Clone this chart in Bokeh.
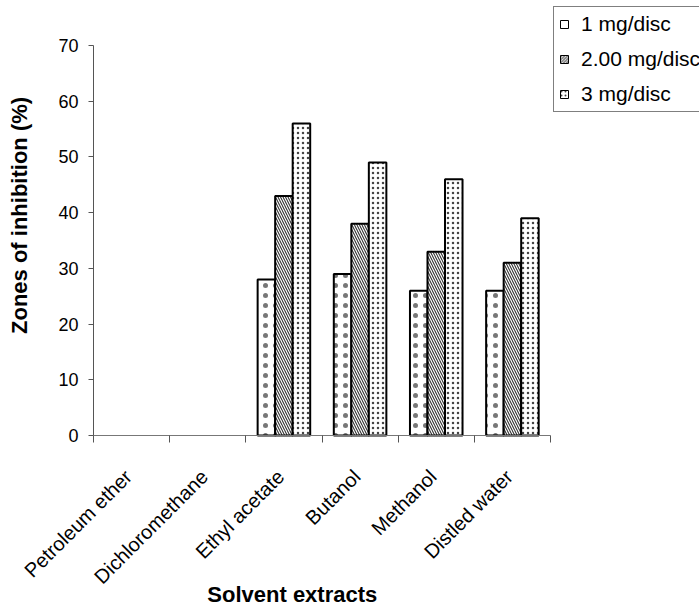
import math
from bokeh.plotting import figure
from bokeh.models import (ColumnDataSource, Range1d, FixedTicker, Legend, LegendItem,
                          LabelSet, Label)
from bokeh.core.properties import value
from bokeh.embed import file_html
from bokeh.resources import INLINE

# ---- data ----
categories = ["Petroleum ether", "Dichloromethane", "Ethyl acetate",
              "Butanol", "Methanol", "Distled water"]
series_names = ["1 mg/disc", "2.00 mg/disc", "3 mg/disc"]
dose_1mg = [0, 0, 28, 29, 26, 26]
dose_2mg = [0, 0, 43, 38, 33, 31]
dose_3mg = [0, 0, 56, 49, 46, 39]
y_ticks = [0, 10, 20, 30, 40, 50, 60, 70]

FONT = "Liberation Sans"
W, H = 699, 608
# plot-area geometry (pixels): x axis 93..550, y axis 435 (0) .. 45 (70)
X0, X1, Y0, Y1 = 93, 550, 435, 45
ncat = len(categories)
xs_per_px = ncat / (X1 - X0)
ys_per_px = 70 / (Y0 - Y1)

p = figure(width=W, height=H,
           x_range=Range1d(-X0 * xs_per_px, ncat + (W - X1) * xs_per_px),
           y_range=Range1d(-(H - Y0) * ys_per_px, 70 + Y1 * ys_per_px),
           output_backend="svg", toolbar_location=None,
           min_border=0, min_border_left=0, min_border_right=0,
           min_border_top=0, min_border_bottom=0)
p.outline_line_color = None
p.xgrid.visible = False
p.ygrid.visible = False
p.background_fill_color = "white"
p.border_fill_color = "white"

# ---- bars ----
bar_w = 0.23
offsets = [-bar_w, 0.0, bar_w]
styles = [
    dict(hatch_pattern="dot", hatch_scale=10, hatch_weight=0.6, hatch_color="#777777"),
    dict(hatch_pattern="left_diagonal_line", hatch_scale=5, hatch_weight=1.1, hatch_color="#333333"),
    dict(hatch_pattern="dot", hatch_scale=5, hatch_weight=1.0, hatch_color="#444444"),
]
swatch_hatch = [dict(hatch_pattern=None),
                dict(hatch_pattern="left_diagonal_line", hatch_scale=3, hatch_weight=0.8, hatch_color="#444444"),
                dict(hatch_pattern="dot", hatch_scale=4, hatch_weight=0.8, hatch_color="#444444")]
legend_items = []
for name, vals, off, st, sh in zip(series_names, [dose_1mg, dose_2mg, dose_3mg],
                                   offsets, styles, swatch_hatch):
    xs = [i + 0.5 + off for i, v in enumerate(vals) if v > 0]
    tops = [v for v in vals if v > 0]
    src = ColumnDataSource(dict(x=xs, top=tops))
    p.vbar(x="x", top="top", width=bar_w, bottom=0, source=src,
           fill_color="white", line_color="black", line_width=2, **st)
    # legend swatch only (placeholder row that draws nothing on the plot)
    sw_src = ColumnDataSource(dict(x=[float("nan")], top=[float("nan")]))
    sw = p.vbar(x="x", top="top", width=bar_w, bottom=0, source=sw_src,
                fill_color="white", line_color="black", line_width=1, **sh)
    legend_items.append(LegendItem(label=name, renderers=[sw]))

# ---- axes (fixed at data origin) ----
ax_col = "#555555"
yax = p.yaxis[0]
yax.fixed_location = 0
yax.bounds = (0, 70)
yax.ticker = FixedTicker(ticks=y_ticks)
yax.major_tick_out = 5
yax.major_tick_in = 0
yax.minor_tick_line_color = None
yax.major_label_standoff = 10
yax.major_label_text_font = FONT
yax.major_label_text_font_size = "18px"
yax.major_label_text_color = "black"
yax.axis_line_color = ax_col
yax.major_tick_line_color = ax_col

xax = p.xaxis[0]
xax.fixed_location = 0
xax.bounds = (0, ncat)
xax.ticker = FixedTicker(ticks=list(range(ncat + 1)))
xax.major_label_overrides = {i: "" for i in range(ncat + 1)}
xax.major_tick_out = 7
xax.major_tick_in = 0
xax.minor_tick_line_color = None
xax.axis_line_color = "#777777"
xax.major_tick_line_color = ax_col

# category labels
cat_src = ColumnDataSource(dict(x=[i + 0.5 for i in range(ncat)],
                                y=[0] * ncat, text=categories))
p.add_layout(LabelSet(x="x", y="y", text="text", source=cat_src,
                      x_offset=-11, y_offset=-30, angle=math.pi / 4,
                      text_align="right", text_baseline="top",
                      text_font=value(FONT), text_font_size=value("20px"),
                      text_color="black"))

# axis titles
p.add_layout(Label(x=0, y=39.5, x_offset=-74, text="Zones of inhibition (%)",
                   angle=math.pi / 2, text_align="center", text_baseline="middle",
                   text_font=FONT, text_font_size="22px", text_font_style="bold",
                   text_color="black"))
p.add_layout(Label(x=2.61, y=0, y_offset=-159, text="Solvent extracts",
                   text_align="center", text_baseline="middle",
                   text_font=FONT, text_font_size="22px", text_font_style="bold",
                   text_color="black"))

# ---- legend ----
legend = Legend(items=legend_items,
                location=(553, H - 112), orientation="vertical",
                border_line_color="black", border_line_width=1,
                background_fill_color="white", background_fill_alpha=1,
                label_text_font=FONT, label_text_font_size="21px",
                label_text_color="black",
                glyph_width=10, glyph_height=10, label_standoff=12,
                padding=5, spacing=11, label_height=24, label_width=160, margin=0)
p.add_layout(legend)

open("out.html", "w").write(file_html(p, INLINE))
